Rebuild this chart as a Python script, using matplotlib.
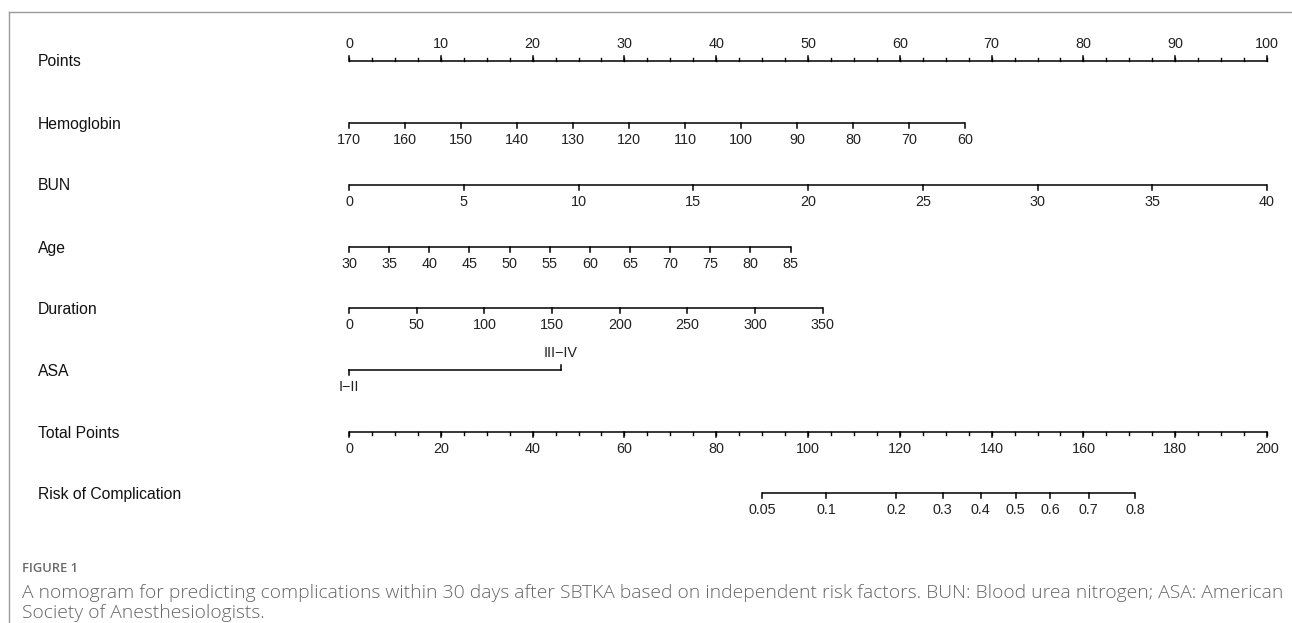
import numpy as np
import matplotlib
matplotlib.use("Agg")
import matplotlib.pyplot as plt
from matplotlib.lines import Line2D

# ---------------- data ----------------
row_names = ["Points", "Hemoglobin", "BUN", "Age", "Duration", "ASA",
             "Total Points", "Risk of Complication"]

points_ticks = list(range(0, 101, 10))
points_minor = list(np.arange(0, 100.1, 2.5))

hb_ticks = [170, 160, 150, 140, 130, 120, 110, 100, 90, 80, 70, 60]
hb_range = (170, 60)
hb_points = (0.0, 67.1)

bun_ticks = [0, 5, 10, 15, 20, 25, 30, 35, 40]
bun_range = (0, 40)
bun_points = (0.0, 100.0)

age_ticks = [30, 35, 40, 45, 50, 55, 60, 65, 70, 75, 80, 85]
age_range = (30, 85)
age_points = (0.0, 48.1)

dur_ticks = [0, 50, 100, 150, 200, 250, 300, 350]
dur_range = (0, 350)
dur_points = (0.0, 51.6)

asa_levels = ["I\u2212II", "III\u2212IV"]
asa_points = [0.0, 23.1]

total_ticks = list(range(0, 201, 20))
total_minor = list(range(0, 201, 5))
total_max = 200

risk_ticks = [0.05, 0.1, 0.2, 0.3, 0.4, 0.5, 0.6, 0.7, 0.8]
risk_labels = ["0.05", "0.1", "0.2", "0.3", "0.4", "0.5", "0.6", "0.7", "0.8"]
# logistic model: logit(risk) = intercept + slope * total points
risk_intercept = -7.74
risk_slope = 0.0533

caption_head = "FIGURE 1"
caption_lines = [
    "A nomogram for predicting complications within 30 days after SBTKA based on independent risk factors. BUN: Blood urea nitrogen; ASA: American",
    "Society of Anesthesiologists.",
]

# ---------------- figure ----------------
W, H = 1292, 623
fig = plt.figure(figsize=(W / 100, H / 100), dpi=100)
ax = fig.add_axes([0, 0, 1, 1])
px_per_pt = 9.18
x0 = 349
ax.set_xlim(-x0 / px_per_pt, (W - x0) / px_per_pt)
ax.set_ylim(H, 0)
ax.axis("off")

FONT = "Liberation Sans"
LW = 1.1
row_y = [61, 123, 185, 247, 308, 370, 432, 493]
lab_fs = 11.3
tick_fs = 10.4
label_x = -(x0 - 38) / px_per_pt

def draw_axis(y, pos, labels, above=False, minor=None, major_len=5, minor_len=3):
    ax.plot([pos[0], pos[-1]], [y, y], color="black", lw=LW, solid_capstyle="butt")
    d = -1 if above else 1
    for p, l in zip(pos, labels):
        ax.plot([p, p], [y, y + d * major_len], color="black", lw=LW)
        ax.text(p, y + d * 17, l, ha="center", va="center", fontsize=tick_fs,
                family=FONT, color="#222222")
    if minor is not None:
        for p in minor:
            ax.plot([p, p], [y, y + d * minor_len], color="black", lw=LW * 0.9)

def lin(v, rng, pts):
    v = np.asarray(v, dtype=float)
    return pts[0] + (v - rng[0]) / (rng[1] - rng[0]) * (pts[1] - pts[0])

# row labels
for name, y in zip(row_names, row_y):
    ax.text(label_x, y + 1, name, ha="left", va="center", fontsize=lab_fs,
            family=FONT, color="#111111")

# Points
draw_axis(row_y[0], points_ticks, [str(t) for t in points_ticks], above=True,
          minor=points_minor)
# Hemoglobin
draw_axis(row_y[1], lin(hb_ticks, hb_range, hb_points), [str(t) for t in hb_ticks])
# BUN
draw_axis(row_y[2], lin(bun_ticks, bun_range, bun_points), [str(t) for t in bun_ticks])
# Age
draw_axis(row_y[3], lin(age_ticks, age_range, age_points), [str(t) for t in age_ticks])
# Duration
draw_axis(row_y[4], lin(dur_ticks, dur_range, dur_points), [str(t) for t in dur_ticks])
# ASA
y = row_y[5]
ax.plot(asa_points, [y, y], color="black", lw=LW)
ax.plot([asa_points[0]] * 2, [y, y + 5], color="black", lw=LW)
ax.text(asa_points[0], y + 17, asa_levels[0], ha="center", va="center",
        fontsize=tick_fs, family=FONT, color="#222222")
ax.plot([asa_points[1]] * 2, [y, y - 5], color="black", lw=LW)
ax.text(asa_points[1], y - 17, asa_levels[1], ha="center", va="center",
        fontsize=tick_fs, family=FONT, color="#222222")
# Total points
tp_scale = 100.0 / total_max
draw_axis(row_y[6], [t * tp_scale for t in total_ticks], [str(t) for t in total_ticks],
          minor=[t * tp_scale for t in total_minor])
# Risk
rt = np.array(risk_ticks)
risk_tp = (np.log(rt / (1 - rt)) - risk_intercept) / risk_slope
draw_axis(row_y[7], risk_tp * tp_scale, risk_labels)

# frame lines (top and left)
fig.add_artist(Line2D([9 / W, 1], [1 - 12 / H, 1 - 12 / H], transform=fig.transFigure,
                      color="#9a9a9a", lw=1.0))
fig.add_artist(Line2D([9 / W, 9 / W], [1 - 12 / H, 0], transform=fig.transFigure,
                      color="#9a9a9a", lw=1.0))

# caption
fig.text(22 / W, 1 - 569 / H, caption_head, ha="left", va="center", fontsize=9.3,
         family="Open Sans", fontweight="semibold", color="#6a6a6a")
for i, line in enumerate(caption_lines):
    fig.text(22 / W, 1 - (593.5 + 20 * i) / H, line, ha="left", va="center",
             fontsize=13.9, family="Open Sans", fontweight="light", color="#666666")

fig.savefig("out.png", dpi=100)
